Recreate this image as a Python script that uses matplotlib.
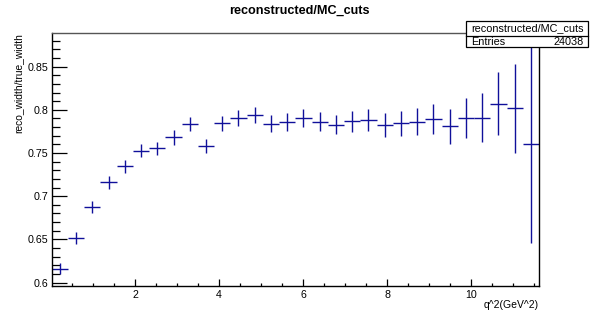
import numpy as np
import matplotlib
matplotlib.use("Agg")
import matplotlib.pyplot as plt
from matplotlib.ticker import MultipleLocator, FuncFormatter
from matplotlib.patches import Rectangle
from matplotlib.lines import Line2D

# Histogram of reco/true width ratio vs q^2
x_min, x_max, n_bins = 0.01, 11.62, 30
ratio = [0.616, 0.6515, 0.6875, 0.716, 0.7346, 0.7528, 0.7555, 0.768, 0.7838, 0.7582,
         0.7845, 0.7903, 0.7945, 0.7841, 0.7856, 0.7903, 0.7864, 0.783, 0.7868, 0.7884,
         0.7826, 0.7845, 0.7864, 0.7895, 0.781, 0.7903, 0.791, 0.8073, 0.8019, 0.760]
ratio_err = [0.0064, 0.0074, 0.0075, 0.0077, 0.0077, 0.0077, 0.0078, 0.0083, 0.0083, 0.0081,
             0.0089, 0.0093, 0.0093, 0.0100, 0.0102, 0.0103, 0.0110, 0.0114, 0.0124, 0.0130,
             0.0137, 0.0147, 0.0160, 0.0176, 0.0200, 0.0234, 0.0284, 0.0370, 0.0514, 0.1143]
hist_name = "reconstructed/MC_cuts"
entries = 24038
x_title = "q^2(GeV^2)"
y_title = "reco_width/true_width"

plt.rcParams['font.family'] = ['Liberation Sans', 'DejaVu Sans']

W, H = 598, 320
fig = plt.figure(figsize=(W / 100, H / 100), dpi=100)
fig.patch.set_facecolor('white')

left, right, top, bottom = 51.7, 539.0, 33.0, 286.0
ax = fig.add_axes([left / W, 1 - bottom / H, (right - left) / W, (bottom - top) / H])

edges = np.linspace(x_min, x_max, n_bins + 1)
centers = 0.5 * (edges[:-1] + edges[1:])
half_w = 0.5 * (edges[1] - edges[0])

ax.errorbar(centers, ratio, xerr=half_w, yerr=ratio_err, fmt='none',
            ecolor='#10109a', elinewidth=1.0, capsize=0)

ax.set_xlim(x_min, x_max)
ax.set_ylim(0.596, 0.889)

# ROOT-like ticks: inward, on left and bottom only
ax.xaxis.set_major_locator(MultipleLocator(2))
ax.xaxis.set_minor_locator(MultipleLocator(0.5))
ax.yaxis.set_major_locator(MultipleLocator(0.05))
ax.yaxis.set_minor_locator(MultipleLocator(0.01))
ax.tick_params(axis='x', which='major', direction='in', length=5.3, width=0.9,
               labelsize=7.7, pad=3, top=False)
ax.tick_params(axis='x', which='minor', direction='in', length=2.4, width=0.9, top=False)
ax.tick_params(axis='y', which='major', direction='in', length=10.8, width=0.9,
               labelsize=7.7, pad=2.5, right=False)
ax.tick_params(axis='y', which='minor', direction='in', length=5.5, width=0.9, right=False)

ax.yaxis.set_major_formatter(FuncFormatter(lambda v, p: f"{v:.2f}".rstrip('0').rstrip('.')))
ax.xaxis.set_major_formatter(FuncFormatter(lambda v, p: f"{v:g}"))

for sp in ax.spines.values():
    sp.set_linewidth(1.0)
    sp.set_color('black')
ax.spines['top'].set_color('#555555')

ax.set_xlabel(x_title, fontsize=7.5, loc='right')
ax.xaxis.set_label_coords(1.0, -(305 - bottom) / (bottom - top) , transform=ax.transAxes)
ax.xaxis.label.set_va('center')
ax.set_ylabel(y_title, fontsize=7.4, loc='top')
ax.yaxis.set_label_coords(-(left - 18.5) / (right - left), 1.0, transform=ax.transAxes)
ax.yaxis.label.set_va('center')

fig.text(0.5, 1 - 11 / H, hist_name, ha='center', va='center', fontsize=9.1,
         fontweight='bold')

# statistics box
bx0, bx1, by0, by1, bmid = 466.3, 587.7, 21.0, 47.3, 36.0
fig.patches.append(Rectangle((bx0 / W, 1 - by1 / H), (bx1 - bx0) / W, (by1 - by0) / H,
                             transform=fig.transFigure, facecolor='white',
                             edgecolor='black', linewidth=0.9, zorder=5))
fig.lines.append(Line2D([bx0 / W, bx1 / W], [1 - bmid / H, 1 - bmid / H],
                        transform=fig.transFigure, color='black', linewidth=0.9, zorder=6))
fig.text((bx0 + bx1) / 2 / W, 1 - (by0 + bmid) / 2 / H, hist_name, ha='center',
         va='center', fontsize=7.8, zorder=7)
fig.text((bx0 + 5) / W, 1 - (bmid + by1) / 2 / H, "Entries", ha='left',
         va='center', fontsize=7.8, zorder=7)
fig.text((bx1 - 4) / W, 1 - (bmid + by1) / 2 / H, str(entries), ha='right',
         va='center', fontsize=7.8, zorder=7)

fig.savefig("out.png", dpi=100)
